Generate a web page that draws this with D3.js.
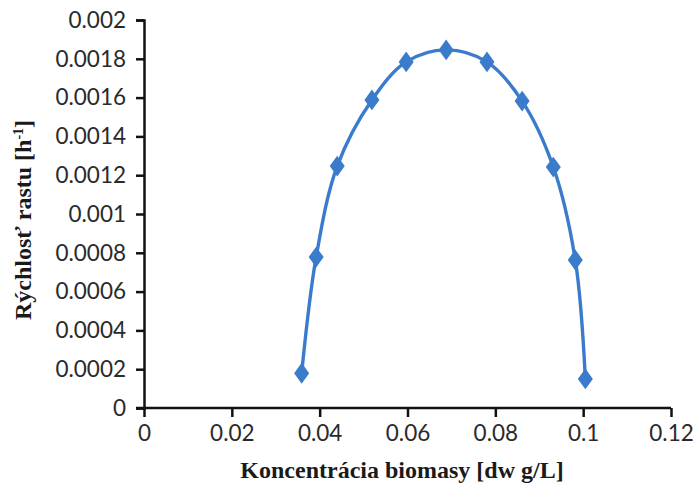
<!DOCTYPE html>
<html><head><meta charset="utf-8">
<script src="https://cdn.jsdelivr.net/npm/d3@7"></script>
<style>
html,body{margin:0;padding:0;background:#fff;}
svg{display:block;}
</style></head>
<body>
<script>
const biomass = [0.0359, 0.0392, 0.0440, 0.0519, 0.0597, 0.0688, 0.0781, 0.0861, 0.0932, 0.0982, 0.1005];
const growthRate = [0.000179, 0.000778, 0.001247, 0.001588, 0.001784, 0.001846, 0.001784, 0.001582, 0.001242, 0.000763, 0.000150];
const xTicks = [0, 0.02, 0.04, 0.06, 0.08, 0.1, 0.12];
const yTicks = [0, 0.0002, 0.0004, 0.0006, 0.0008, 0.001, 0.0012, 0.0014, 0.0016, 0.0018, 0.002];
const xTitle = "Koncentrácia biomasy [dw g/L]";

const W = 697, H = 489;
const m = {left:144, right:26, top:20, bottom:81};
const svg = d3.select("body").append("svg").attr("width", W).attr("height", H);

const x = d3.scaleLinear().domain([0, 0.12]).range([m.left, W - m.right]);
const y = d3.scaleLinear().domain([0, 0.002]).range([H - m.bottom, m.top]);

const tickFont = "Lato, 'Open Sans', sans-serif";

const xAxis = svg.append("g").attr("transform", `translate(0,${y(0)})`)
  .call(d3.axisBottom(x).tickValues(xTicks).tickFormat(d => String(d)).tickSizeOuter(0).tickSize(9).tickPadding(8));
const yAxis = svg.append("g").attr("transform", `translate(${x(0)},0)`)
  .call(d3.axisLeft(y).tickValues(yTicks).tickFormat(d => String(+d.toFixed(4))).tickSizeOuter(0).tickSize(8).tickPadding(10));

[xAxis, yAxis].forEach(g => {
  g.select(".domain").attr("stroke", "#111").attr("stroke-width", 2.5);
  g.selectAll(".tick line").attr("stroke", "#111").attr("stroke-width", 2.5);
  g.selectAll(".tick text").attr("fill", "#2a2a2a").style("font-family", tickFont).style("font-size", "22.5px");
});
xAxis.select(".domain").attr("d", `M${x(0)-8},0H${x(0.12)}`);

const line = d3.line().x((d,i) => x(biomass[i])).y(d => y(d)).curve(d3.curveCatmullRom.alpha(0.5));
svg.append("path").datum(growthRate).attr("d", line)
  .attr("fill", "none").attr("stroke", "#3a7bcc").attr("stroke-width", 3.4);

const sym = d3.symbol().type(d3.symbolDiamond).size(125);
svg.selectAll(".pt").data(growthRate).enter().append("path")
  .attr("transform", (d,i) => `translate(${x(biomass[i])},${y(d)}) scale(1.25,1)`)
  .attr("d", sym).attr("fill", "#3a7bcc");

svg.append("text").attr("x", 402).attr("y", 478).attr("text-anchor", "middle")
  .style("font-family", "'Liberation Serif', serif").style("font-weight", "bold").style("font-size", "24px")
  .attr("fill", "#1a1a1a").text(xTitle);

const yt = svg.append("text").attr("transform", "translate(31,220) rotate(-90)").attr("text-anchor", "middle")
  .style("font-family", "'Liberation Serif', serif").style("font-weight", "bold").style("font-size", "24px")
  .attr("fill", "#1a1a1a");
yt.append("tspan").text("Rýchlosť rastu [h");
yt.append("tspan").attr("dy", -8).style("font-size", "14px").text("-1");
yt.append("tspan").attr("dy", 8).text("]");
</script>
</body></html>
